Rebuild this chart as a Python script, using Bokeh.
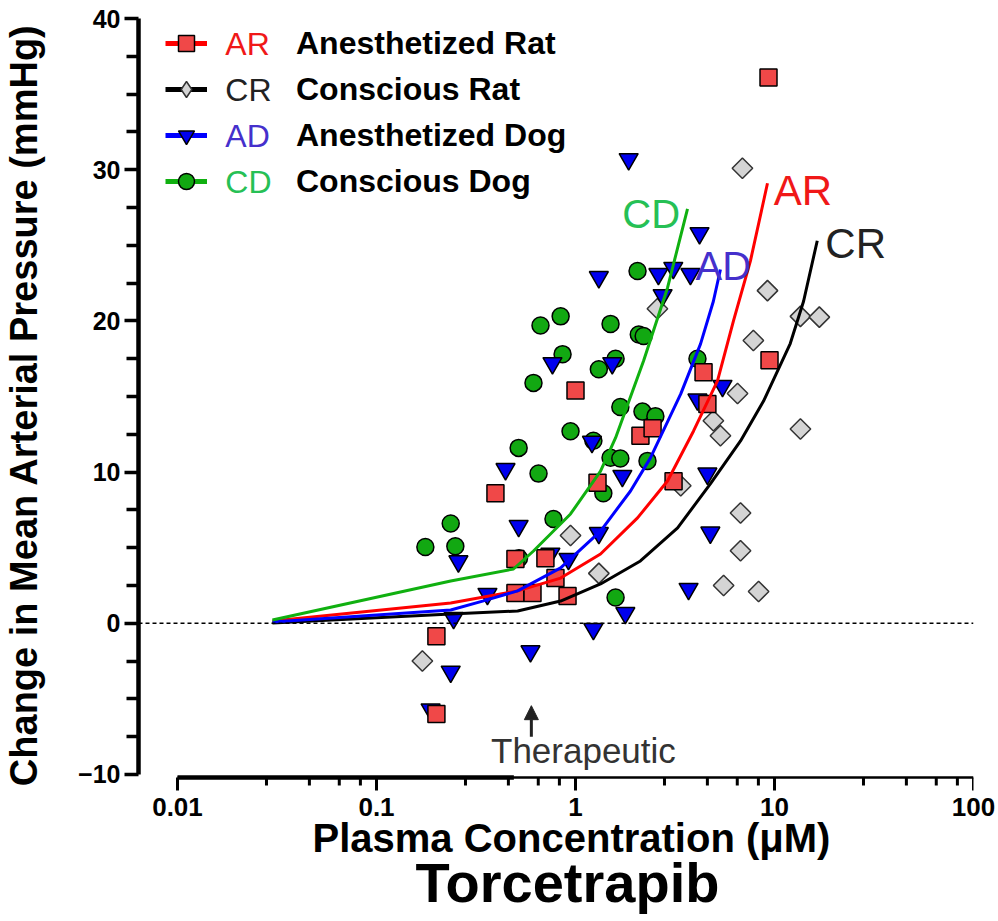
import math
from bokeh.plotting import figure
from bokeh.models import (Range1d, FixedTicker, Span, Label, Legend, LegendItem,
                          Arrow, NormalHead, Title)
from bokeh.embed import file_html
from bokeh.resources import INLINE

# ---------------- data ----------------
# Anesthetized Rat (AR) - red squares
ar_x = [9.33, 9.44, 4.40, 4.60, 2.12, 2.44, 1.00, 1.29, 0.396, 3.11, 0.499, 0.706,
        0.793, 0.499, 0.608, 0.912, 0.200, 0.200]
ar_y = [36.1, 17.4, 16.6, 14.5, 12.4, 12.9, 15.4, 9.3, 8.6, 9.4, 4.25, 4.3,
        3.0, 2.0, 2.0, 1.8, -0.85, -6.0]

# Conscious Rat (CR) - grey diamonds
cr_x = [6.90, 9.22, 7.83, 13.5, 16.8, 6.52, 4.93, 5.35, 13.5, 2.58, 3.38, 0.944,
        6.75, 6.75, 1.31, 5.55, 8.32, 0.170]
cr_y = [30.1, 22.0, 18.7, 20.3, 20.25, 15.2, 13.4, 12.4, 12.85, 20.8, 9.1, 5.8,
        7.3, 4.8, 3.3, 2.5, 2.1, -2.5]

# Anesthetized Dog (AD) - blue inverted triangles
ad_x = [1.85, 1.31, 2.61, 3.10, 2.74, 4.20, 3.78, 0.766, 1.53, 1.21, 4.10, 5.48,
        1.72, 0.445, 4.60, 0.518, 1.31, 4.76, 0.258, 0.748, 0.922, 0.361, 3.70,
        1.78, 0.244, 1.23, 0.236, 0.187, 0.594]
ad_y = [30.7, 22.9, 23.1, 23.5, 21.7, 25.8, 23.1, 17.2, 17.2, 12.0, 14.8, 15.7,
        9.75, 10.2, 9.9, 6.44, 5.97, 6.0, 4.1, 4.6, 4.25, 1.94, 2.27,
        0.68, 0.35, -0.38, -3.2, -5.7, -1.85]

# Conscious Dog (CD) - green circles
cd_x = [2.05, 0.842, 0.667, 1.50, 2.08, 2.20, 0.861, 1.59, 1.31, 0.615, 1.68, 2.17,
        2.52, 0.944, 1.23, 0.518, 1.50, 1.68, 2.30, 0.652, 1.38, 0.775, 0.236,
        0.249, 0.176, 1.59, 0.52, 4.10]
cd_y = [23.3, 20.3, 19.7, 19.8, 19.1, 19.0, 17.8, 17.5, 16.8, 15.9, 14.3, 14.0,
        13.7, 12.7, 12.07, 11.6, 10.95, 10.9, 10.74, 9.9, 8.6, 6.9, 6.6,
        5.1, 5.05, 1.7, 4.3, 17.5]

# fitted curves
cd_fit_x = [0.030, 0.236, 0.488, 0.615, 0.944, 1.336, 1.589, 2.197, 2.899, 3.655]
cd_fit_y = [0.22, 2.80, 3.59, 4.78, 7.23, 10.07, 12.26, 17.35, 22.18, 27.41]
ar_fit_x = [0.030, 0.236, 0.512, 0.842, 1.336, 2.05, 2.90, 3.92, 5.17, 6.22, 7.57, 9.22]
ar_fit_y = [0.15, 1.34, 2.14, 2.99, 4.58, 6.97, 9.41, 12.72, 16.03, 20.0, 23.97, 29.1]
ad_fit_x = [0.030, 0.236, 0.345, 0.512, 0.842, 1.336, 1.89, 2.38, 3.38, 4.25, 4.93, 5.35]
ad_fit_y = [0.09, 0.88, 1.48, 2.14, 3.66, 6.1, 8.75, 10.94, 15.17, 18.48, 21.3, 23.4]
cr_fit_x = [0.030, 0.236, 0.512, 0.842, 1.336, 2.12, 3.26, 4.76, 6.75, 8.81, 12.0, 14.0, 16.4]
cr_fit_y = [0.02, 0.62, 0.81, 1.47, 2.6, 4.12, 6.31, 9.22, 12.06, 14.7, 18.5, 21.3, 25.3]

series_codes = ["AR", "CR", "AD", "CD"]
series_names = ["Anesthetized Rat", "Conscious Rat", "Anesthetized Dog", "Conscious Dog"]

x_ticks = [0.01, 0.1, 1, 10, 100]
x_tick_labels = ["0.01", "0.1", "1", "10", "100"]
y_ticks = [-10, 0, 10, 20, 30, 40]
therapeutic_conc = 0.6


def lg(vals):
    """Concentrations are placed on a log10 scale (decades)."""
    return [math.log10(v) for v in vals]


# ---------------- styling ----------------
FONT = "Liberation Sans"
RED, BLACK, BLUE, GREEN = "#ff0000", "#000000", "#0000ff", "#10b010"
LBL_COL = {"AR": "#f01818", "CR": "#222222", "AD": "#4530cc", "CD": "#26c055"}

W, H = 998, 921
TOP, LEFT, RIGHT, BOTTOM = 18, 138, 25, 130
PX = 15.12                       # pixels per mmHg
X_AXIS_AT = -10.2                # level of the concentration axis line
Y0 = X_AXIS_AT - 14 / PX         # frame reaches just below the tick marks

p = figure(width=W, height=H, title=None,
           x_range=Range1d(-2.196, 2.0), y_range=Range1d(Y0, 40),
           output_backend="svg", toolbar_location=None,
           min_border_left=LEFT, min_border_right=RIGHT, min_border_top=TOP,
           min_border_bottom=BOTTOM)
p.outline_line_color = None
p.grid.visible = False
p.background_fill_color = "white"

# y axis
ya = p.yaxis[0]
ya.ticker = FixedTicker(ticks=y_ticks,
                        minor_ticks=[v / 2.0 for v in range(-20, 81, 5) if v % 20])
ya.bounds = (-10, 40)
ya.axis_line_width = 4.5
ya.major_tick_line_width = 3.5
ya.major_tick_out = 14
ya.major_tick_in = 0
ya.minor_tick_line_width = 3.5
ya.minor_tick_out = 12
ya.minor_tick_in = 0
ya.major_label_text_font = FONT
ya.major_label_text_font_size = "25px"
ya.major_label_text_font_style = "bold"
ya.major_label_text_color = "black"
ya.major_label_standoff = 4
ya.axis_label = "Change in Mean Arterial Pressure (mmHg)"
ya.axis_label_text_font = FONT
ya.axis_label_text_font_size = "38px"
ya.axis_label_text_font_style = "bold"
ya.axis_label_text_color = "black"
ya.axis_label_standoff = 30

# x axis: labels from Bokeh's axis, line and tick marks drawn at the axis level
xa = p.xaxis[0]
major_lx = lg(x_ticks)
minor_lx = [math.log10(d * m) for d in (0.01, 0.1, 1, 10) for m in (2.8, 4.6, 6.5, 8.3)]
xa.ticker = FixedTicker(ticks=major_lx)
xa.major_label_overrides = {round(t): l for t, l in zip(major_lx, x_tick_labels)}
xa.axis_line_color = None
xa.major_tick_line_color = None
xa.minor_tick_line_color = None
xa.major_tick_out = 0
xa.minor_tick_out = 0
xa.major_tick_in = 0
xa.minor_tick_in = 0
xa.major_label_text_font = FONT
xa.major_label_text_font_size = "26px"
xa.major_label_text_font_style = "bold"
xa.major_label_text_color = "black"
xa.major_label_standoff = 6

p.segment(x0=[major_lx[0]], y0=[X_AXIS_AT], x1=[major_lx[-1]], y1=[X_AXIS_AT],
          line_color="black", line_width=2.5)
p.segment(x0=[major_lx[0]], y0=[X_AXIS_AT], x1=lg([0.49]), y1=[X_AXIS_AT],
          line_color="black", line_width=4.5)
p.segment(x0=major_lx, y0=[X_AXIS_AT] * len(major_lx), x1=major_lx,
          y1=[X_AXIS_AT - 13 / PX] * len(major_lx), line_color="black", line_width=3)
p.segment(x0=minor_lx, y0=[X_AXIS_AT] * len(minor_lx), x1=minor_lx,
          y1=[X_AXIS_AT - 8 / PX] * len(minor_lx), line_color="black", line_width=3)

# zero line
p.add_layout(Span(location=0, dimension="width", line_color="black",
                  line_width=1.5, line_dash="4 3"))

# markers (circles bottom, squares top)
p.scatter(lg(cd_x), cd_y, marker="circle", size=17, fill_color="#12a812",
          line_color="black", line_width=1.5)
p.scatter(lg(cr_x), cr_y, marker="square", angle=math.pi / 4, size=14.5,
          fill_color="#d4d4d4", line_color="#333333", line_width=1.5)
p.scatter(lg(ad_x), ad_y, marker="inverted_triangle", size=19, fill_color="#0000ee",
          line_color="black", line_width=1.5)
p.scatter(lg(ar_x), ar_y, marker="square", size=17, fill_color="#f04848",
          line_color="black", line_width=1.5)

# fitted curves
p.line(lg(cr_fit_x), cr_fit_y, line_color=BLACK, line_width=3)
p.line(lg(ar_fit_x), ar_fit_y, line_color=RED, line_width=3)
p.line(lg(ad_fit_x), ad_fit_y, line_color=BLUE, line_width=3)
p.line(lg(cd_fit_x), cd_fit_y, line_color=GREEN, line_width=3)

# curve end labels
curve_labels = [("CD", 1.72, 27.1, "40px"), ("AD", 4.01, 23.64, "40px"),
                ("AR", 9.9, 28.6, "42px"), ("CR", 18.0, 25.1, "42px")]
for code, lx, ly, fs in curve_labels:
    p.add_layout(Label(x=math.log10(lx), y=ly, text=code, text_color=LBL_COL[code],
                       text_font=FONT, text_font_size=fs,
                       text_baseline="alphabetic", text_align="left"))

# legend (sample glyphs use an off-screen point so they can be drawn)
leg_style = [
    (RED, "square", "#f04848", "black"),
    (BLACK, "diamond", "#d4d4d4", "#333333"),
    (BLUE, "inverted_triangle", "#0000ee", "black"),
    (GREEN, "circle", "#12a812", "black"),
]
items = []
for name, (lc, mk, fill, edge) in zip(series_names, leg_style):
    lr = p.line(x=[-9, -8.9], y=[-100, -100], line_color=lc, line_width=5)
    mr = p.scatter(x=[-9], y=[-100], marker=mk, fill_color=fill, line_color=edge,
                   line_width=1.5)
    items.append(LegendItem(label=name, renderers=[lr, mr]))
frame_h = H - TOP - BOTTOM
legend = Legend(items=items, location=(27, frame_h - 5 - 178),
                glyph_width=42, glyph_height=40,
                label_height=40, label_standoff=89, spacing=6, padding=0, margin=0,
                border_line_color=None, background_fill_alpha=0,
                label_text_font=FONT, label_text_font_size="32px",
                label_text_font_style="bold", label_text_color="black")
p.add_layout(legend)

leg_y = [38.33, 35.28, 32.24, 29.19]
for code, ly in zip(series_codes, leg_y):
    p.add_layout(Label(x=math.log10(0.0174), y=ly, text=code, text_color=LBL_COL[code],
                       text_font=FONT, text_font_size="32px",
                       text_baseline="middle", text_align="left"))

# therapeutic marker
tx = math.log10(therapeutic_conc)
p.add_layout(Arrow(x_start=tx, y_start=-7.5, x_end=tx, y_end=-5.45,
                   line_width=3, line_color="#222222",
                   end=NormalHead(size=14, fill_color="#222222", line_color="#222222")))
p.add_layout(Label(x=math.log10(1.096), y=-8.44, text="Therapeutic",
                   text_color="#333333", text_font=FONT, text_font_size="35px",
                   text_align="center", text_baseline="middle"))

# x-axis titles below the axis
p.add_layout(Title(text="Plasma Concentration (\u03bcM)", align="left", offset=174,
                   standoff=-10, text_font=FONT, text_font_size="40px",
                   text_font_style="bold", text_color="black"), "below")
p.add_layout(Title(text="Torcetrapib", align="left", offset=277, standoff=-11,
                   text_font=FONT, text_font_size="56px", text_font_style="bold",
                   text_color="black"), "below")

open("out.html", "w").write(file_html(p, INLINE))
